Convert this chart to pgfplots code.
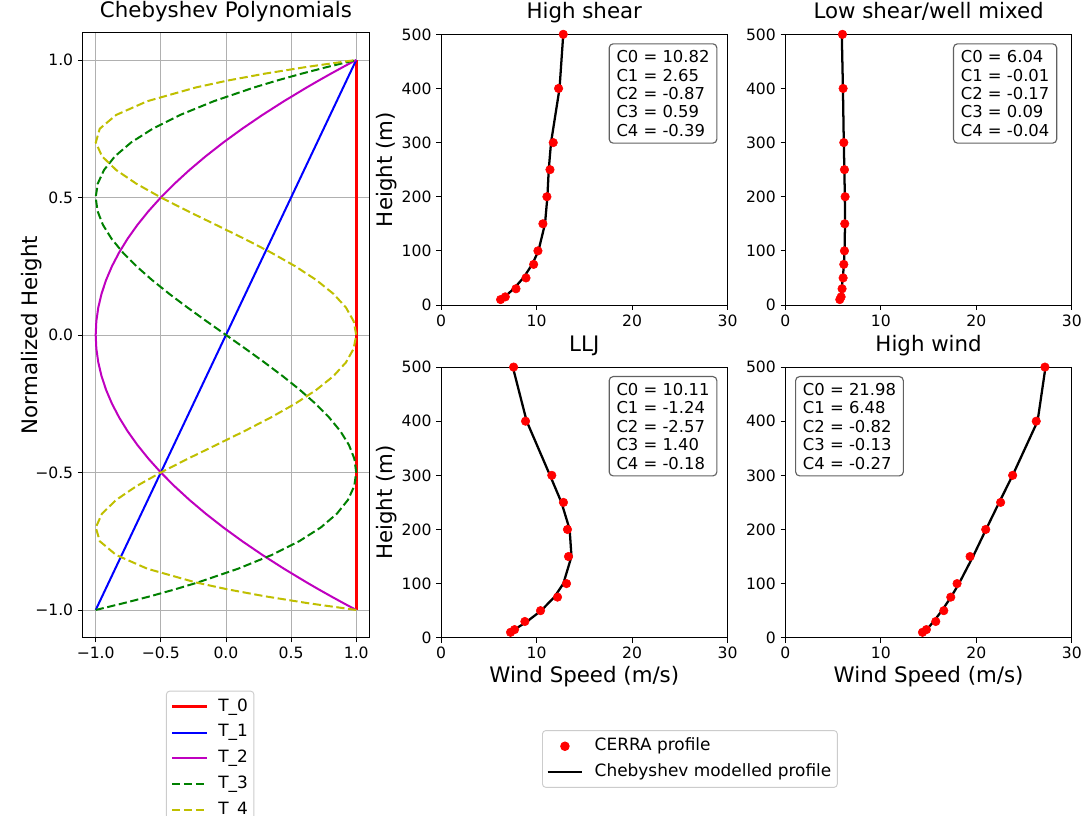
\documentclass[border=0pt]{standalone}
\usepackage{fontspec}
\setmainfont{DejaVu Sans}
\usepackage{pgfplots}
\usepackage{pgfplotstable}
\pgfplotsset{compat=1.18}

\newcommand{\tickfont}{\fontsize{11.7}{14}\selectfont}
\newcommand{\titlefont}{\fontsize{16}{19}\selectfont}
\newcommand{\legfont}{\fontsize{12.7}{15}\selectfont}
\newcommand{\boxfont}{\fontsize{12.3}{13.8}\selectfont}

\definecolor{mplm}{rgb}{0.75,0,0.75}
\definecolor{mply}{rgb}{0.75,0.75,0}
\definecolor{mplg}{rgb}{0,0.5,0}

% Chebyshev polynomials T2..T4 against normalized height y
\pgfplotstableread{
y T2 T3 T4
-1 1 -1 1
-0.975 0.90125 -0.782438 0.624503
-0.95 0.805 -0.5795 0.29605
-0.925 0.71125 -0.390813 0.011752
-0.9 0.62 -0.216 -0.2312
-0.85 0.445 0.0935 -0.60395
-0.8 0.28 0.352 -0.8432
-0.75 0.125 0.5625 -0.96875
-0.7 -0.02 0.728 -0.9992
-0.65 -0.155 0.8515 -0.95195
-0.6 -0.28 0.936 -0.8432
-0.55 -0.395 0.9845 -0.68795
-0.5 -0.5 1 -0.5
-0.45 -0.595 0.9855 -0.29195
-0.4 -0.68 0.944 -0.0752
-0.35 -0.755 0.8785 0.14005
-0.3 -0.82 0.792 0.3448
-0.25 -0.875 0.6875 0.53125
-0.2 -0.92 0.568 0.6928
-0.15 -0.955 0.4365 0.82405
-0.1 -0.98 0.296 0.9208
-0.05 -0.995 0.1495 0.98005
0 -1 0 1
0.05 -0.995 -0.1495 0.98005
0.1 -0.98 -0.296 0.9208
0.15 -0.955 -0.4365 0.82405
0.2 -0.92 -0.568 0.6928
0.25 -0.875 -0.6875 0.53125
0.3 -0.82 -0.792 0.3448
0.35 -0.755 -0.8785 0.14005
0.4 -0.68 -0.944 -0.0752
0.45 -0.595 -0.9855 -0.29195
0.5 -0.5 -1 -0.5
0.55 -0.395 -0.9845 -0.68795
0.6 -0.28 -0.936 -0.8432
0.65 -0.155 -0.8515 -0.95195
0.7 -0.02 -0.728 -0.9992
0.75 0.125 -0.5625 -0.96875
0.8 0.28 -0.352 -0.8432
0.85 0.445 -0.0935 -0.60395
0.9 0.62 0.216 -0.2312
0.925 0.71125 0.390813 0.011752
0.95 0.805 0.5795 0.29605
0.975 0.90125 0.782438 0.624503
1 1 1 1
}\cheb

% height, CERRA wind speed, Chebyshev fit
\pgfplotstableread{
h cerra fit
10 6.24 6.32
15 6.73 6.67
30 7.85 7.61
50 8.90 8.62
75 9.70 9.55
100 10.15 10.20
150 10.67 10.89
200 11.09 11.14
250 11.41 11.28
300 11.75 11.52
400 12.31 12.41
500 12.80 12.80
}\hishear
\pgfplotstableread{
h cerra fit
10 5.70 5.75
15 5.84 5.79
30 5.94 5.90
50 6.05 6.02
75 6.12 6.13
100 6.19 6.20
150 6.22 6.25
200 6.26 6.23
250 6.19 6.18
300 6.12 6.12
400 6.05 6.03
500 5.98 5.91
}\loshear
\pgfplotstableread{
h cerra fit
10 7.28 7.20
15 7.70 7.69
30 8.78 9.01
50 10.42 10.48
75 12.20 11.86
100 13.14 12.81
150 13.35 13.66
200 13.24 13.47
250 12.82 12.61
300 11.60 11.41
400 8.85 8.97
500 7.60 7.52
}\llj
\pgfplotstableread{
h cerra fit
10 14.36 14.54
15 14.77 14.80
30 15.75 15.53
50 16.59 16.39
75 17.32 17.34
100 17.98 18.18
150 19.34 19.65
200 20.98 21.01
250 22.54 22.39
300 23.80 23.80
400 26.27 26.41
500 27.18 27.24
}\hiwind

\tikzset{
  cbox/.style={draw=black!62, fill=white, rounded corners=3pt, align=left, font=\boxfont, inner xsep=5.5pt, inner ysep=5pt, line width=0.85pt},
}
\pgfplotsset{
  base/.style={
    scale only axis,
    tick align=outside, tick pos=left,
    major tick length=3.6pt,
    tick style={black, line width=0.6pt},
    axis line style={line width=0.6pt},
    tick label style={font=\tickfont},
    /pgf/number format/assume math mode=true,
    title style={font=\titlefont, at={(0.5,1)}, anchor=base, yshift=5.5pt},
    label style={font=\titlefont},
    legend cell align=left,
    legend image code/.code={\draw[mark repeat=2,mark phase=2,#1] plot coordinates {(0pt,0pt) (13pt,0pt) (26pt,0pt)};},
  },
  prof/.style={
    base,
    width=214.9pt, height=203pt,
    xmin=0, xmax=30, ymin=0, ymax=500,
    xtick={0,10,20,30}, ytick={0,100,200,300,400,500},
    ylabel style={at={(axis description cs:-0.189,0.5)}, anchor=center},
    xlabel style={at={(axis description cs:0.5,-0.143)}, anchor=center},
  },
  cerra/.style={only marks, mark=*, mark size=3.2pt, color=red, mark options={draw=red, fill=red}},
  cfit/.style={black, line width=1.7pt, no marks},
  mpldash/.style={line width=1.5pt, dash pattern=on 6.2pt off 2.7pt},
}

\begin{document}
\begin{tikzpicture}
\path[use as bounding box] (0,0) rectangle (819pt,612pt);

% Chebyshev polynomials
\begin{axis}[base,
  at={(62pt,133.9pt)}, anchor=south west,
  width=214.95pt, height=453.75pt,
  xmin=-1.1, xmax=1.1, ymin=-1.1, ymax=1.1,
  xtick={-1,-0.5,0,0.5,1}, xticklabels={−1.0,−0.5,0.0,0.5,1.0},
  ytick={-1,-0.5,0,0.5,1}, yticklabels={−1.0,−0.5,0.0,0.5,1.0},
  grid=major, grid style={color=black!31, line width=0.6pt},
  title={Chebyshev Polynomials},
  ylabel={Normalized Height},
  ylabel style={at={(axis description cs:-0.178,0.5)}, anchor=center},
  legend style={at={(0.2907,-0.0879)}, anchor=north west, font=\legfont,
    draw=black!20, rounded corners=2.5pt, line width=0.7pt,
    nodes={inner sep=1.5pt, text height=9.5pt, text depth=3pt},
    row sep=3.8pt, inner xsep=3pt, inner ysep=4pt,
    /tikz/every odd column/.append style={column sep=6pt}},
]
\addplot[red, line width=2.4pt] coordinates {(1,-1) (1,1)};
\addlegendentry{T\_0}
\addplot[blue, line width=1.5pt] coordinates {(-1,-1) (1,1)};
\addlegendentry{T\_1}
\addplot[mplm, line width=1.5pt] table[x=T2, y=y] {\cheb};
\addlegendentry{T\_2}
\addplot[mplg, mpldash] table[x=T3, y=y] {\cheb};
\addlegendentry{T\_3}
\addplot[mply, mpldash] table[x=T4, y=y] {\cheb};
\addlegendentry{T\_4}
\end{axis}

% High shear
\begin{axis}[prof, at={(330.75pt,383.25pt)}, anchor=south west,
  title={High shear}, ylabel={Height (m)}]
\addplot[cerra] table[x=cerra, y=h] {\hishear};
\addplot[cfit] table[x=fit, y=h] {\hishear};
\node[cbox, anchor=north west] at (rel axis cs:0.585,0.967)
  {C0 = 10.82\\C1 = 2.65\\C2 = -0.87\\C3 = 0.59\\C4 = -0.39};
\end{axis}

% Low shear / well mixed
\begin{axis}[prof, at={(589pt,383.25pt)}, anchor=south west,
  title={Low shear/well mixed}]
\addplot[cerra] table[x=cerra, y=h] {\loshear};
\addplot[cfit] table[x=fit, y=h] {\loshear};
\node[cbox, anchor=north west] at (rel axis cs:0.585,0.967)
  {C0 = 6.04\\C1 = -0.01\\C2 = -0.17\\C3 = 0.09\\C4 = -0.04};
\end{axis}

% LLJ
\begin{axis}[prof, at={(330.75pt,133.7pt)}, anchor=south west,
  title={LLJ}, ylabel={Height (m)}, xlabel={Wind Speed (m/s)},
  legend style={at={(0.3525,-0.3413)}, anchor=north west, font=\legfont,
    draw=black!20, rounded corners=2.5pt, line width=0.7pt,
    nodes={inner sep=1.5pt, text height=9.5pt, text depth=3pt},
    row sep=3.6pt, inner xsep=3pt, inner ysep=4pt,
    /tikz/every odd column/.append style={column sep=7pt}},
]
\addplot[cerra] table[x=cerra, y=h] {\llj};
\addlegendentry{CERRA profile}
\addplot[cfit] table[x=fit, y=h] {\llj};
\addlegendentry{Chebyshev modelled profile}
\node[cbox, anchor=north west] at (rel axis cs:0.585,0.967)
  {C0 = 10.11\\C1 = -1.24\\C2 = -2.57\\C3 = 1.40\\C4 = -0.18};
\end{axis}

% High wind
\begin{axis}[prof, at={(589pt,133.7pt)}, anchor=south west,
  title={High wind}, xlabel={Wind Speed (m/s)}]
\addplot[cerra] table[x=cerra, y=h] {\hiwind};
\addplot[cfit] table[x=fit, y=h] {\hiwind};
\node[cbox, anchor=north west] at (rel axis cs:0.034,0.967)
  {C0 = 21.98\\C1 = 6.48\\C2 = -0.82\\C3 = -0.13\\C4 = -0.27};
\end{axis}
\end{tikzpicture}
\end{document}
